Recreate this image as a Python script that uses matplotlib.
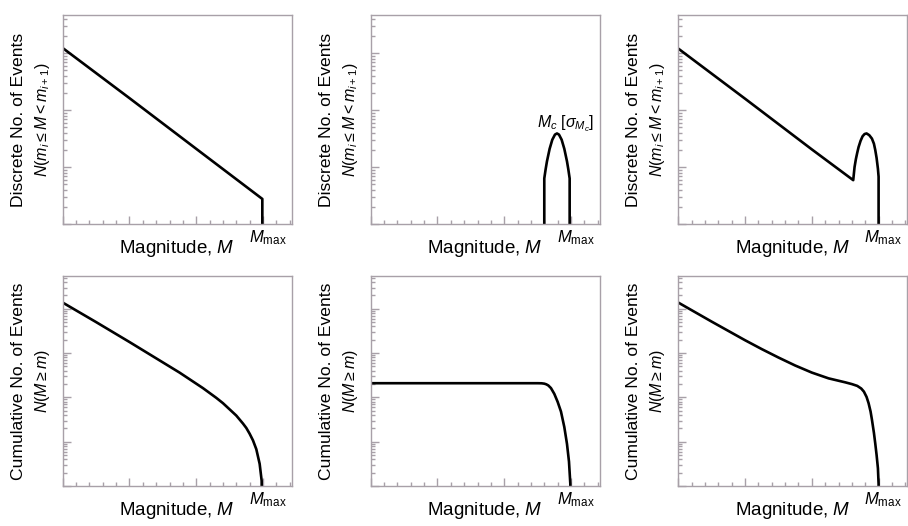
import numpy as np
import matplotlib
matplotlib.use("Agg")
import matplotlib.pyplot as plt
from matplotlib.ticker import MultipleLocator, LogLocator, NullFormatter

plt.rcParams['font.family'] = ['Liberation Sans', 'DejaVu Sans']
plt.rcParams['mathtext.fontset'] = 'custom'
plt.rcParams['mathtext.rm'] = 'Liberation Sans'
plt.rcParams['mathtext.it'] = 'Liberation Sans:italic'
plt.rcParams['mathtext.bf'] = 'Liberation Sans:bold'

# ---------------- data (log10 of event counts) ----------------
M_MAX = 3.0
FLOOR = -3.0  # below the axis bottom: curve drops out of view

# top-left: discrete Gutenberg-Richter
gr_disc_m = [0.0, 1.0, 2.0, 2.99, 2.99]
gr_disc_logn = [3.09, 2.21, 1.32, 0.44, FLOOR]

# top-middle: discrete characteristic (gaussian) peak
ch_disc_m = [2.60, 2.60, 2.62, 2.64, 2.68, 2.72, 2.76, 2.79, 2.82, 2.86, 2.90, 2.94, 2.96, 2.98, 2.98]
ch_disc_logn = [FLOOR, 0.80, 0.96, 1.10, 1.32, 1.48, 1.57, 1.59, 1.57, 1.48, 1.32, 1.10, 0.96, 0.80, FLOOR]

# top-right: discrete GR + characteristic
mix_disc_m = [0.0, 1.0, 2.0, 2.62, 2.64, 2.66, 2.68, 2.70, 2.73, 2.76, 2.79, 2.82, 2.86, 2.90, 2.93, 2.95, 2.97, 2.99, 3.00, 3.00]
mix_disc_logn = [3.08, 2.20, 1.31, 0.77, 1.00, 1.14, 1.25, 1.35, 1.46, 1.54, 1.58, 1.59, 1.56, 1.50, 1.41, 1.30, 1.16, 0.97, 0.83, FLOOR]

# bottom-left: cumulative truncated GR
gr_cum_m = [0.0, 0.5, 1.0, 1.25, 1.5, 1.75, 2.0, 2.1, 2.2, 2.3, 2.4, 2.5, 2.6, 2.7, 2.75, 2.8, 2.85, 2.9, 2.95, 2.98, 3.0]
gr_cum_logn = [4.14, 3.70, 3.25, 3.02, 2.79, 2.56, 2.31, 2.21, 2.10, 1.99, 1.87, 1.73, 1.59, 1.41, 1.31, 1.18, 1.03, 0.83, 0.50, 0.12, FLOOR]

# bottom-middle: cumulative characteristic
ch_cum_m = [0.0, 2.50, 2.56, 2.60, 2.63, 2.66, 2.70, 2.75, 2.80, 2.85, 2.90, 2.94, 2.97, 2.99, 2.995]
ch_cum_logn = [2.32, 2.32, 2.318, 2.31, 2.295, 2.27, 2.21, 2.08, 1.90, 1.68, 1.33, 0.95, 0.55, 0.05, FLOOR]

# bottom-right: cumulative GR + characteristic
mix_cum_m = [0.0, 0.5, 1.0, 1.25, 1.5, 1.75, 2.0, 2.25, 2.5, 2.6, 2.68, 2.74, 2.78, 2.82, 2.85, 2.88, 2.90, 2.93, 2.95, 2.97, 2.99, 3.0, 3.0]
mix_cum_logn = [4.14, 3.71, 3.29, 3.09, 2.90, 2.72, 2.56, 2.43, 2.34, 2.30, 2.26, 2.20, 2.13, 2.01, 1.87, 1.68, 1.50, 1.20, 0.96, 0.70, 0.40, 0.05, FLOOR]

XLABEL = "Magnitude, $M$"
YLABEL_TOP = ("Discrete No. of Events", r"$N(m_i \leq M < m_{i+1})$")
YLABEL_BOT = ("Cumulative No. of Events", r"$N(M \geq m)$")
MMAX_LABEL = r"$M_{\rm max}$"
PEAK_LABEL = r"$M_c\ [\sigma_{M_c}]$"

# ---------------- layout ----------------
W, H = 908, 526
fig = plt.figure(figsize=(W / 100, H / 100), dpi=100)

col_left = [62.7, 370.7, 678.3]
ax_w = 229.0
rows = [(15.0, 224.0, 3.67), (276.0, 486.0, 4.74)]  # top px, bottom px, top decade

panels = [
    (0, 0, gr_disc_m, gr_disc_logn, YLABEL_TOP),
    (0, 1, ch_disc_m, ch_disc_logn, YLABEL_TOP),
    (0, 2, mix_disc_m, mix_disc_logn, YLABEL_TOP),
    (1, 0, gr_cum_m, gr_cum_logn, YLABEL_BOT),
    (1, 1, ch_cum_m, ch_cum_logn, YLABEL_BOT),
    (1, 2, mix_cum_m, mix_cum_logn, YLABEL_BOT),
]

frame_col = '#a8a0a8'
for r, c, mx, logn, ylab in panels:
    top, bot, topdec = rows[r]
    ax = fig.add_axes([col_left[c] / W, 1 - bot / H, ax_w / W, (bot - top) / H])
    ax.set_yscale('log')
    ax.plot(mx, 10.0 ** np.array(logn), color='black', lw=1.9, solid_joinstyle='round')
    ax.set_xlim(0, 3.43)
    ax.set_ylim(1, 10 ** topdec)
    ax.xaxis.set_major_locator(MultipleLocator(1.0))
    ax.xaxis.set_minor_locator(MultipleLocator(0.2))
    ax.yaxis.set_major_locator(LogLocator(base=10, numticks=10))
    ax.yaxis.set_minor_locator(LogLocator(base=10, subs=np.arange(2, 10), numticks=20))
    ax.xaxis.set_major_formatter(NullFormatter())
    ax.xaxis.set_minor_formatter(NullFormatter())
    ax.yaxis.set_major_formatter(NullFormatter())
    ax.yaxis.set_minor_formatter(NullFormatter())
    ax.tick_params(which='both', direction='in', color=frame_col, top=False, right=False)
    ax.tick_params(which='major', length=6, width=1)
    ax.tick_params(which='minor', length=3, width=1)
    for s in ax.spines.values():
        s.set_color(frame_col)
        s.set_linewidth(1.0)

    hpx = bot - top
    ax.text(0.5, -24.5 / hpx, XLABEL, transform=ax.transAxes, ha='center', va='center', fontsize=13.5)
    ax.text(M_MAX + 0.07, -14 / hpx, MMAX_LABEL, transform=ax.get_xaxis_transform(),
            ha='center', va='center', fontsize=12)
    ax.text(-44.5 / ax_w, 0.5, ylab[0], transform=ax.transAxes, rotation=90,
            ha='center', va='center', fontsize=12.6)
    ax.text(-20.5 / ax_w, 0.5, ylab[1], transform=ax.transAxes, rotation=90,
            ha='center', va='center', fontsize=11.5)

    if r == 0 and c == 1:
        ax.annotate(PEAK_LABEL, xy=(2.79, 10 ** 1.59), xytext=(6, 7),
                    textcoords='offset points', ha='center', va='center', fontsize=11.5)

fig.savefig('out.png', dpi=100)
